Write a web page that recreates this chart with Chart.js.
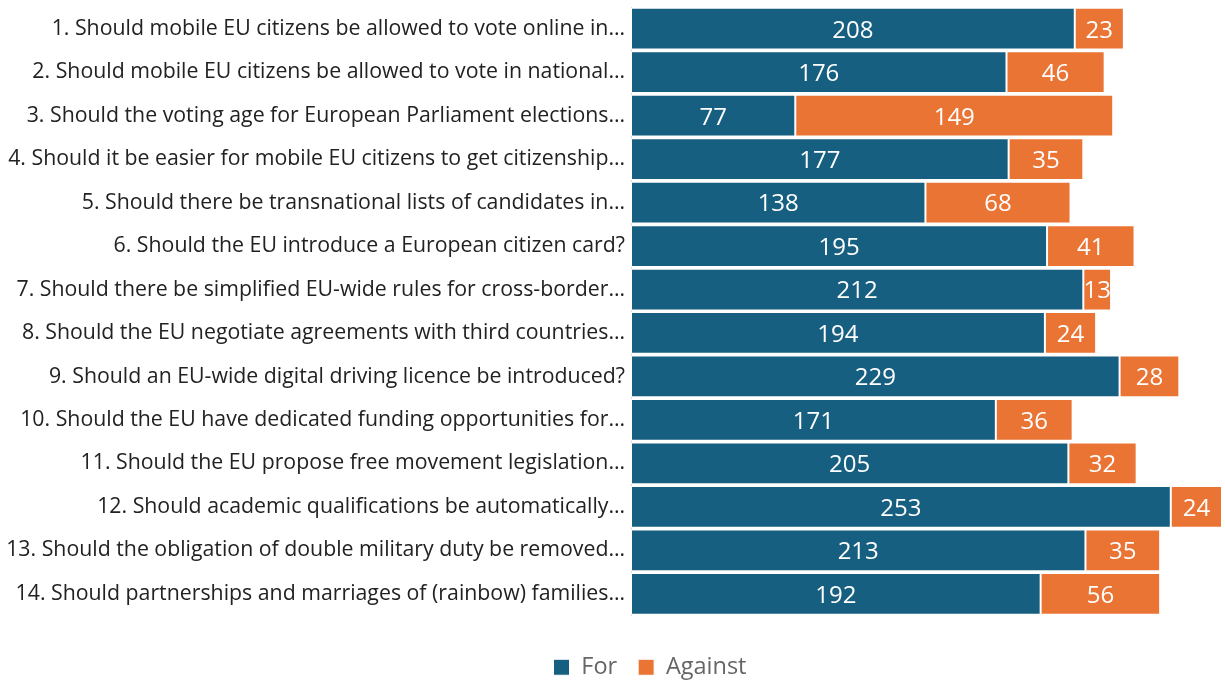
<!DOCTYPE html>
<html>
<head>
<meta charset="utf-8">
<script src="https://cdn.jsdelivr.net/npm/chart.js@4"></script>
<style>
html,body{margin:0;padding:0;background:#fff;}
#wrap{width:1225px;height:682px;position:relative;}
</style>
</head>
<body>
<div id="wrap"><canvas id="c"></canvas></div>
<script>
const categories = [
  "1. Should mobile EU citizens be allowed to vote online in…",
  "2. Should mobile EU citizens be allowed to vote in national…",
  "3. Should the voting age for European Parliament elections…",
  "4. Should it be easier for mobile EU citizens to get citizenship…",
  "5. Should there be transnational lists of candidates in…",
  "6. Should the EU introduce a European citizen card?",
  "7. Should there be simplified EU-wide rules for cross-border…",
  "8. Should the EU negotiate agreements with third countries…",
  "9. Should an EU-wide digital driving licence be introduced?",
  "10. Should the EU have dedicated funding opportunities for…",
  "11. Should the EU propose free movement legislation…",
  "12. Should academic qualifications be automatically…",
  "13. Should the obligation of double military duty be removed…",
  "14. Should partnerships and marriages of (rainbow) families…"
];
const forValues = [208, 176, 77, 177, 138, 195, 212, 194, 229, 171, 205, 253, 213, 192];
const againstValues = [23, 46, 149, 35, 68, 41, 13, 24, 28, 36, 32, 24, 35, 56];
const seriesNames = ["For", "Against"];

const FONT = "'Open Sans', sans-serif";
const LEGEND_EXTRA = 12;
const LEGEND_SHIFT = 19;
const LEGEND_SHIFT_X = 38;

const labelPlugin = {
  id: 'segLabels',
  beforeLayout(chart) {
    const lg = chart.legend;
    if (lg && !lg._patched) {
      const origDraw = lg.draw.bind(lg);
      const origFit = lg.fit.bind(lg);
      lg.fit = function () {
        origFit();
        this.height += LEGEND_EXTRA;
      };
      lg.draw = function () {
        const ctx = this.ctx;
        ctx.save();
        ctx.translate(LEGEND_SHIFT_X, LEGEND_SHIFT);
        origDraw();
        ctx.restore();
      };
      lg._patched = true;
    }
  },
  afterDatasetsDraw(chart) {
    const ctx = chart.ctx;
    ctx.save();
    ctx.fillStyle = '#ffffff';
    ctx.font = "24px " + FONT;
    ctx.textAlign = 'center';
    ctx.textBaseline = 'middle';
    chart.data.datasets.forEach((ds, di) => {
      const meta = chart.getDatasetMeta(di);
      meta.data.forEach((el, i) => {
        const v = ds.data[i];
        const cx = (el.x + el.base) / 2;
        ctx.fillText(String(v), cx, el.y + 2);
      });
    });
    ctx.restore();
  }
};

new Chart(document.getElementById('c'), {
  type: 'bar',
  data: {
    labels: categories,
    datasets: [
      { label: seriesNames[0], data: forValues, backgroundColor: '#175f80', borderColor: '#ffffff', borderWidth: 1, borderSkipped: false },
      { label: seriesNames[1], data: againstValues, backgroundColor: '#ea7434', borderColor: '#ffffff', borderWidth: 1, borderSkipped: false }
    ]
  },
  options: {
    indexAxis: 'y',
    responsive: true,
    maintainAspectRatio: false,
    animation: false,
    layout: { padding: { top: 7, right: 3, left: 2, bottom: 0 } },
    datasets: { bar: { barPercentage: 1, categoryPercentage: 0.96 } },
    scales: {
      x: { stacked: true, display: false, min: 0, max: 277 },
      y: {
        stacked: true,
        grid: { display: false, drawTicks: false },
        border: { display: true, color: '#d9d9d9', width: 1 },
        ticks: { color: '#222222', font: { family: FONT, size: 21.3 }, padding: 6 },
        afterFit(scale) { scale.paddingTop = 0; scale.paddingBottom = 0; scale.width = 629; }
      }
    },
    plugins: {
      legend: {
        position: 'bottom',
        labels: { color: '#666666', font: { family: FONT, size: 23.5 }, boxWidth: 16, boxHeight: 16, padding: 21 }
      },
      tooltip: { enabled: false }
    }
  },
  plugins: [labelPlugin]
});
</script>
</body>
</html>
